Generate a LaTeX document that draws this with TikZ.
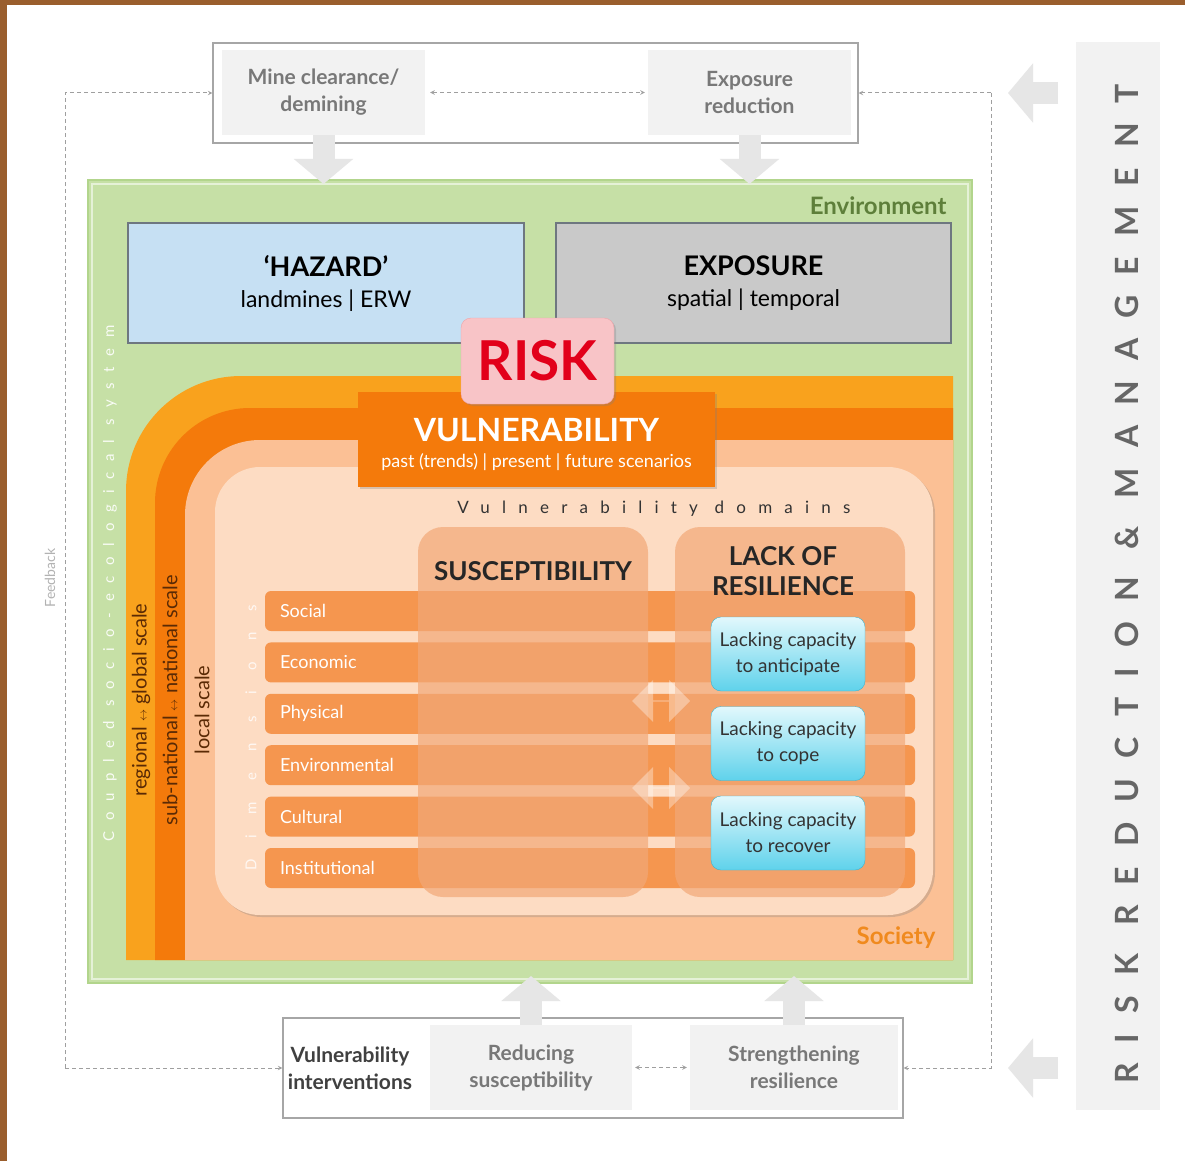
\documentclass[tikz,border=0pt]{standalone}
\usepackage{fontspec}
\setmainfont{Lato}
\usepackage{tikz}
\usetikzlibrary{positioning, arrows.meta, shapes.arrows, shadows}

\definecolor{framebrown}{HTML}{9A5E2D}
\definecolor{panelgray}{HTML}{F2F2F2}
\definecolor{edgegray}{HTML}{A6A6A6}
\definecolor{txtgray}{HTML}{787878}
\definecolor{arrowgray}{HTML}{E6E6E6}
\definecolor{envgreen}{HTML}{C6E0A6}
\definecolor{envedge}{HTML}{B2D58C}
\definecolor{envtext}{HTML}{5E7F3A}
\definecolor{hazblue}{HTML}{C6E0F3}
\definecolor{expgray}{HTML}{C9C9C9}
\definecolor{boxedge}{HTML}{6E7780}
\definecolor{bandA}{HTML}{F9A21D}
\definecolor{bandB}{HTML}{F47A0B}
\definecolor{bandC}{HTML}{FBC095}
\definecolor{domfill}{HTML}{FDDCC3}
\definecolor{rowor}{HTML}{F5964F}
\definecolor{colfill}{HTML}{F2A877}
\definecolor{riskpink}{HTML}{F8C4C7}
\definecolor{riskedge}{HTML}{F0A3A8}
\definecolor{riskred}{HTML}{E2001A}
\definecolor{cyantop}{HTML}{E2F8FC}
\definecolor{cyanbot}{HTML}{5FD2EB}
\definecolor{cyanedge}{HTML}{3DB3CE}
\definecolor{scalebrown}{HTML}{5A2A05}
\definecolor{socor}{HTML}{F08A1E}

\newcommand{\fsz}[2]{\fontsize{#1}{#2}\selectfont}

\begin{document}
\begin{tikzpicture}[x=1pt, y=-1pt, >=stealth,
    softshadow/.style={drop shadow={shadow xshift=2pt, shadow yshift=-2pt, opacity=0.3}},
    outerbox/.style={draw=edgegray, fill=white, line width=1.2pt},
    graybox/.style={fill=panelgray, minimum width=203, minimum height=85, align=center,
        text=txtgray, font=\fsz{21}{27}\bfseries},
    fbline/.style={draw=gray!75, dash pattern=on 4pt off 3pt, line width=1pt},
    bigarrow/.style={draw=arrowgray, line width=22pt, -{Triangle[width=58pt,length=25pt]}},
    dimrow/.style={fill=rowor, rounded corners=6, minimum height=40, text width=620,
        inner xsep=15, align=left, text=white, font=\fsz{18}{20}},
    domcol/.style={fill=colfill, fill opacity=0.7, rounded corners=25, minimum width=230,
        minimum height=370},
    lackbox/.style={top color=cyantop, bottom color=cyanbot, draw=cyanedge, rounded corners=10,
        minimum width=154, minimum height=74, align=center, text=black!80, font=\fsz{19}{26}},
    dblarrow/.style={double arrow, fill=white, fill opacity=0.35, minimum width=42,
        minimum height=58, double arrow head extend=6, inner sep=0},
    scalelbl/.style={rotate=90, text=scalebrown, font=\fsz{20}{20}}]

    \useasboundingbox (0,0) rectangle (1185,1161);
    \fill[white] (0,0) rectangle (1185,1161);
    \fill[framebrown] (0,0) rectangle (1185,5);
    \fill[framebrown] (0,0) rectangle (7,1161);

    % Risk reduction and management panel
    \node[fill=panelgray, minimum width=84, minimum height=1068] (rrm) at (1118,576) {};
    \node[rotate=90, text=black!60, font=\fsz{32}{32}\bfseries\addfontfeatures{LetterSpace=63}]
        (rrmtext) at (1127,584) {RISK REDUCTION \& MANAGEMENT};

    % Top interventions
    \node[outerbox, minimum width=645, minimum height=100] (topbox) at (535.5,93) {};
    \node[graybox] (mine) at (323.5,92.5) {Mine clearance/\\demining};
    \node[graybox] (expred) at (749.5,92.5) {Exposure\\reduction};
    \draw[fbline,<->] ([xshift=5]mine.east) -- ([xshift=-3]expred.west);

    % Bottom interventions
    \node[outerbox, minimum width=620, minimum height=100] (botbox) at (593,1068) {};
    \node[align=center, text=black!75, font=\fsz{21}{27}\bfseries] (vulint) at (350,1068)
        {Vulnerability\\interventions};
    \node[graybox, minimum width=202] (redsus) at (531,1067.5) {Reducing\\susceptibility};
    \node[graybox, minimum width=208] (strres) at (794,1067.5) {Strengthening\\resilience};
    \draw[fbline,<->] ([xshift=3]redsus.east) -- ([xshift=-3]strres.west);

    % Environment
    \node[fill=envgreen, draw=envedge, line width=2pt, minimum width=884, minimum height=803]
        (env) at (530,581.5) {};
    \draw[white!55!envgreen, line width=1.5pt] ([xshift=5,yshift=-5]env.north west)
        rectangle ([xshift=-5,yshift=5]env.south east);
    \node[anchor=east, text=envtext, font=\fsz{24}{24}\bfseries] (envlbl) at (950,206) {Environment};
    \node[rotate=90, text=white, opacity=0.9, font=\fsz{15}{15}\addfontfeatures{LetterSpace=72}]
        (ses) at (110,583) {Coupled socio-ecological system};

    % Feedback loop
    \coordinate (fbTL) at (65,93);
    \coordinate (fbBL) at (65,1068);
    \coordinate (fbTR) at (991,93);
    \coordinate (fbBR) at (991,1068);
    \draw[fbline,->] (fbBL) -- (fbTL) -- (topbox.west);
    \draw[fbline,->] (fbBL) -- (botbox.west);
    \draw[fbline,->] (fbTR) -- (topbox.east);
    \draw[fbline,->] (fbTR) -- (fbBR) -- (botbox.east);
    \node[rotate=90, text=gray!60, font=\fsz{14}{14}] (fblbl) at (50,578) {Feedback};

    % Big arrows
    \draw[bigarrow, shorten >=-5pt] (mine.south) -- (mine.south |- env.north);
    \draw[bigarrow, shorten >=-5pt] (expred.south) -- (expred.south |- env.north);
    \draw[bigarrow, shorten >=-8pt] (redsus.north) -- (redsus.north |- env.south);
    \draw[bigarrow, shorten >=-8pt] (strres.north) -- (strres.north |- env.south);
    \coordinate (rA) at (1058,93);
    \coordinate (rB) at (1058,1068);
    \draw[bigarrow] (rA) -- (rA -| 1008,0);
    \draw[bigarrow] (rB) -- (rB -| 1008,0);

    % Hazard and exposure
    \node[fill=hazblue, draw=boxedge, line width=1.2pt, minimum width=396, minimum height=120,
        align=center, font=\fsz{23}{31}] (hazard) at (326,283)
        {{\fsz{27}{31}\bfseries ‘HAZARD’}\\landmines | ERW};
    \node[fill=expgray, draw=boxedge, line width=1.2pt, minimum width=395, minimum height=120,
        align=center, font=\fsz{23}{31}] (exposure) at (753.5,283)
        {{\fsz{27}{31}\bfseries EXPOSURE}\\spatial | temporal};

    % Society scale bands
    \fill[bandA] (126,960) -- (126,491) arc[start angle=180, end angle=270, radius=115]
        -- (953,376) -- (953,960) -- cycle;
    \fill[bandB] (155,960) -- (155,503) arc[start angle=180, end angle=270, radius=95]
        -- (953,408) -- (953,960) -- cycle;
    \fill[bandC] (185,960) -- (185,515) arc[start angle=180, end angle=270, radius=75]
        -- (953,440) -- (953,960) -- cycle;
    \node[scalelbl] (regl) at (141,700) {regional {\fsz{13}{13}$\leftrightarrow$} global scale};
    \node[scalelbl] (natl) at (170,700) {sub-national {\fsz{13}{13}$\leftrightarrow$} national scale};
    \node[scalelbl] (locl) at (202,710) {local scale};
    \node[anchor=east, text=socor, font=\fsz{24}{24}\bfseries] (soclbl) at (939,938) {Society};

    % Vulnerability domains
    \node[fill=domfill, rounded corners=45, minimum width=718, minimum height=448, softshadow]
        (domains) at (574,691) {};
    \node[text=black!80, font=\fsz{17}{17}\addfontfeatures{LetterSpace=72}] (domlbl) at (654,509)
        {Vulnerability domains};
    \node[rotate=90, text=white, opacity=0.8, font=\fsz{15}{15}\addfontfeatures{LetterSpace=140}]
        (dimlbl) at (251,738) {Dimensions};

    \foreach \lbl [count=\i] in {Social, Economic, Physical, Environmental, Cultural, Institutional}
        \node[dimrow] (row\i) at (590,{611+51.4*(\i-1)}) {\lbl};

    \node[domcol] (susc) at (533,712) {};
    \node[domcol] (lack) at (790,712) {};
    \node[font=\fsz{26}{30}\bfseries, text=black!85] (susct) at (533,571) {SUSCEPTIBILITY};
    \node[font=\fsz{26}{30}\bfseries, text=black!85, align=center] (lackt) at (783,571)
        {LACK OF\\RESILIENCE};
    \node[dblarrow] (da1) at (661,701) {};
    \node[dblarrow] (da2) at (661,788) {};

    \node[lackbox] (ant) at (788,654) {Lacking capacity\\to anticipate};
    \node[lackbox] (cope) at (788,743.5) {Lacking capacity\\to cope};
    \node[lackbox] (recv) at (788,833) {Lacking capacity\\to recover};

    % Vulnerability and risk
    \node[fill=bandB, minimum width=357, minimum height=95, softshadow] (vuln) at (536.5,439.5) {};
    \node[text=white, font=\fsz{32}{34}\bfseries] (vulnt) at (536.5,430) {VULNERABILITY};
    \node[text=white, font=\fsz{18}{20}] (vulns) at (536.5,462) {past (trends) | present | future scenarios};
    \node[fill=riskpink, draw=riskedge, rounded corners=10, minimum width=153, minimum height=86,
        text=riskred, font=\fsz{55}{55}\bfseries, softshadow] (risk) at (537.5,361) {RISK};
\end{tikzpicture}
\end{document}
